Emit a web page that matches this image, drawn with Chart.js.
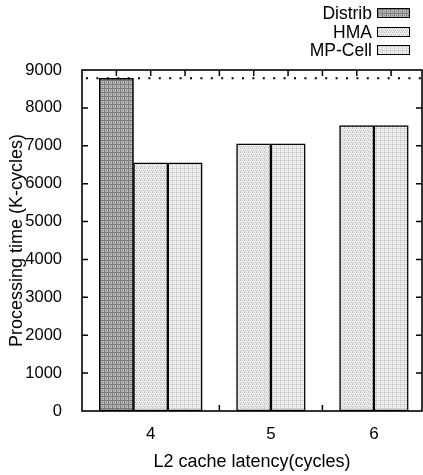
<html>
<head>
<title>Processing time vs L2 cache latency</title>
<script src="https://cdn.jsdelivr.net/npm/chart.js@4.4.0/dist/chart.umd.min.js"></script>
<style>
	body { margin: 0; background: #fff; font-family: "Liberation Sans", Arial, sans-serif; }
	#wrap { position: relative; width: 423px; height: 475px; }
	#legend { position: absolute; top: 4px; right: 13px; font-size: 17.5px; line-height: 18.5px; color: #000; }
	#legend .row { display: flex; justify-content: flex-end; align-items: center; height: 18.5px; }
	#legend .box { width: 31px; height: 8px; border: 1px solid #000; margin-left: 5px; }
</style>
</head>
<body>
<div id="wrap">
	<canvas id="canvas" width="423" height="475"></canvas>
	<div id="legend"></div>
</div>
<script>
	// values (K-cycles), null = no bar for that latency
	const categories = ['4', '5', '6'];
	const distrib = [8780, null, null];
	const hma = [6550, 7050, 7530];
	const mpCell = [6550, 7050, 7530];
	const refLevel = 8780; // dotted line
	const yMax = 9000;
	const yStep = 1000;

	function makePattern(bg, fg, dots) {
		const c = document.createElement('canvas');
		c.width = 4; c.height = 4;
		const g = c.getContext('2d');
		g.fillStyle = bg;
		g.fillRect(0, 0, 4, 4);
		g.fillStyle = fg;
		dots.forEach(([x, y]) => g.fillRect(x, y, 1, 1));
		return c;
	}
	const grid = [[0, 0], [1, 0], [2, 0], [3, 0], [0, 1], [0, 2], [0, 3], [2, 2]];
	const series = [
		{ label: 'Distrib', values: distrib, tile: makePattern('#b8b8b8', '#7c7c7c', grid) },
		{ label: 'HMA', values: hma, tile: makePattern('#eeeeee', '#c2c2c2', [[0, 0], [2, 0], [1, 2], [3, 2], [0, 3]]) },
		{ label: 'MP-Cell', values: mpCell, tile: makePattern('#f3f3f3', '#cfcfcf', grid) },
	];

	// lay bars out side by side, one empty slot between latencies
	let slot = 1;
	const points = series.map(() => []);
	const groupCenters = [];
	categories.forEach((cat, i) => {
		const first = slot;
		series.forEach((s, k) => {
			if (s.values[i] !== null) {
				points[k].push({ x: slot, y: s.values[i] });
				slot++;
			}
		});
		groupCenters.push((first + slot - 1) / 2);
		slot++;
	});
	const lastSlot = slot - 2;

	const ctx = document.getElementById('canvas').getContext('2d');

	const framePlugin = {
		id: 'frame',
		beforeDatasetsDraw(chart) {
			const { ctx, chartArea: a, scales: { x, y } } = chart;
			ctx.save();
			ctx.strokeStyle = '#000';
			ctx.lineWidth = 1.5;
			ctx.beginPath();
			for (let v = yStep; v < yMax; v += yStep) {
				const py = y.getPixelForValue(v);
				ctx.moveTo(a.left, py); ctx.lineTo(a.left + 6, py);
				ctx.moveTo(a.right, py); ctx.lineTo(a.right - 6, py);
			}
			for (let s = 1; s <= lastSlot; s++) {
				const px = x.getPixelForValue(s);
				ctx.moveTo(px, a.bottom); ctx.lineTo(px, a.bottom - 6);
				ctx.moveTo(px, a.top); ctx.lineTo(px, a.top + 6);
			}
			ctx.stroke();
			ctx.restore();
		},
		afterDatasetsDraw(chart) {
			const { ctx, chartArea: a, scales: { y } } = chart;
			ctx.save();
			ctx.strokeStyle = '#000';
			ctx.lineWidth = 2;
			ctx.setLineDash([2, 8.4]);
			const py = y.getPixelForValue(refLevel);
			ctx.beginPath();
			ctx.moveTo(a.left + 4, py); ctx.lineTo(a.right, py);
			ctx.stroke();
			ctx.setLineDash([]);
			ctx.lineWidth = 1.6;
			ctx.strokeRect(a.left, a.top, a.right - a.left, a.bottom - a.top);
			ctx.restore();
		}
	};

	const font = { family: '"Liberation Sans", Arial, sans-serif' };

	new Chart(ctx, {
		type: 'bar',
		data: {
			datasets: series.map((s, k) => ({
				label: s.label,
				data: points[k],
				backgroundColor: ctx.createPattern(s.tile, 'repeat'),
				borderColor: '#000',
				borderWidth: 1.5,
				borderSkipped: false,
				grouped: false,
				barPercentage: 1,
				categoryPercentage: 1,
			})),
		},
		options: {
			responsive: false,
			animation: false,
			layout: { padding: { top: 70, right: 1, left: 0, bottom: 0 } },
			plugins: { legend: { display: false }, tooltip: { enabled: false } },
			scales: {
				x: {
					type: 'linear',
					min: 0,
					max: 9.9,
					offset: false,
					grid: { display: false },
					border: { display: false },
					afterBuildTicks: (scale) => { scale.ticks = groupCenters.map((v) => ({ value: v })); },
					afterFit: (scale) => { scale.height = 64; },
					ticks: {
						autoSkip: false,
						maxRotation: 0,
						padding: 5,
						color: '#000',
						font: { ...font, size: 17 },
						callback: (v) => categories[groupCenters.indexOf(v)],
					},
					title: {
						display: true,
						text: 'L2 cache latency(cycles)',
						color: '#000',
						font: { ...font, size: 18 },
						padding: { top: 0, bottom: 2 },
					},
				},
				y: {
					min: 0,
					max: yMax,
					grid: { display: false },
					border: { display: false },
					afterFit: (scale) => { scale.width = 82; },
					ticks: {
						stepSize: yStep,
						padding: 12,
						color: '#000',
						font: { ...font, size: 16.5 },
						callback: (v) => String(v),
					},
					title: {
						display: true,
						text: 'Processing time (K-cycles)',
						color: '#000',
						font: { ...font, size: 18 },
						padding: { top: 6, bottom: 0 },
					},
				},
			},
		},
		plugins: [framePlugin],
	});

	// gnuplot style key: text then swatch
	const legend = document.getElementById('legend');
	series.forEach((s) => {
		const row = document.createElement('div');
		row.className = 'row';
		const label = document.createElement('span');
		label.textContent = s.label;
		const box = document.createElement('span');
		box.className = 'box';
		box.style.backgroundImage = `url(${s.tile.toDataURL()})`;
		row.appendChild(label);
		row.appendChild(box);
		legend.appendChild(row);
	});
</script>
</body>
</html>
